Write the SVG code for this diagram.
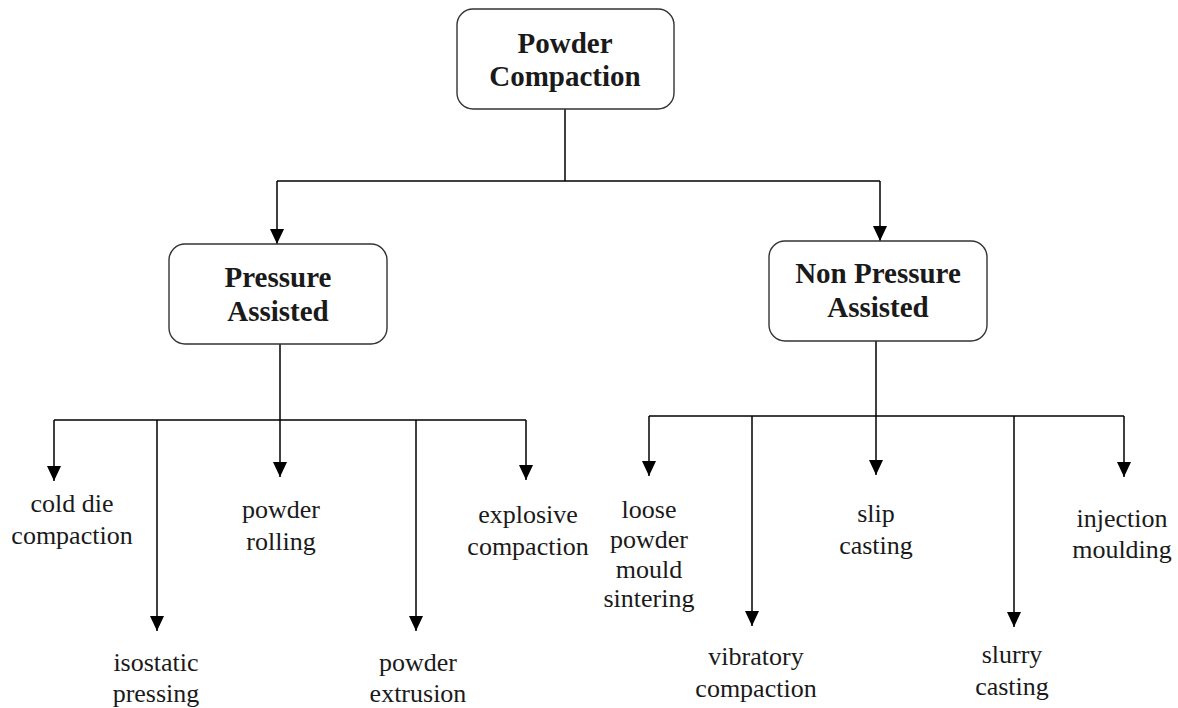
<svg xmlns="http://www.w3.org/2000/svg" width="1178" height="708" viewBox="0 0 1178 708">
<style>
.box{fill:#fff;stroke:#333;stroke-width:1.4}
.t{font-family:"Liberation Serif","Times New Roman",serif;font-size:26px;fill:#1a1a1a;text-anchor:middle}
.b{font-family:"Liberation Serif","Times New Roman",serif;font-size:29px;font-weight:bold;fill:#1a1a1a;text-anchor:middle}
.ln{fill:none;stroke:#000;stroke-width:1.5}
</style>
<defs>
<marker id="a" markerUnits="userSpaceOnUse" markerWidth="15" markerHeight="14" viewBox="0 0 15 14" refX="15" refY="7" orient="auto">
<path d="M0,0 L15,7 L0,14 Z" fill="#000"/>
</marker>
</defs>
<rect width="1178" height="708" fill="#fff"/>
<g id="connectors">
<path class="ln" d="M565,109 V181"/>
<path class="ln" d="M277,181 H880"/>
<path class="ln" d="M277,181 V244" marker-end="url(#a)"/>
<path class="ln" d="M880,181 V241" marker-end="url(#a)"/>
<path class="ln" d="M280,344 V420"/>
<path class="ln" d="M54,420 H526"/>
<path class="ln" d="M54,420 V481" marker-end="url(#a)"/>
<path class="ln" d="M157,420 V631" marker-end="url(#a)"/>
<path class="ln" d="M280,420 V477" marker-end="url(#a)"/>
<path class="ln" d="M416,420 V631" marker-end="url(#a)"/>
<path class="ln" d="M526,420 V480" marker-end="url(#a)"/>
<path class="ln" d="M876,341 V416"/>
<path class="ln" d="M649,416 H1124"/>
<path class="ln" d="M649,416 V476" marker-end="url(#a)"/>
<path class="ln" d="M752,416 V626" marker-end="url(#a)"/>
<path class="ln" d="M876,416 V475" marker-end="url(#a)"/>
<path class="ln" d="M1014,416 V627" marker-end="url(#a)"/>
<path class="ln" d="M1124,416 V477" marker-end="url(#a)"/>
</g>
<g id="powder-compaction">
<rect class="box" x="457" y="9" width="217" height="100" rx="16"/>
<text class="b" x="565" y="53">Powder</text>
<text class="b" x="565" y="86">Compaction</text>
</g>
<g id="pressure-assisted">
<rect class="box" x="169" y="244" width="218" height="100" rx="16"/>
<text class="b" x="278" y="287">Pressure</text>
<text class="b" x="278" y="321">Assisted</text>
</g>
<g id="non-pressure-assisted">
<rect class="box" x="769" y="241" width="218" height="100" rx="16"/>
<text class="b" x="878" y="283">Non Pressure</text>
<text class="b" x="878" y="317">Assisted</text>
</g>
<g id="cold-die-compaction">
<text class="t" x="72" y="512">cold die</text>
<text class="t" x="72" y="544">compaction</text>
</g>
<g id="isostatic-pressing">
<text class="t" x="156" y="671">isostatic</text>
<text class="t" x="156" y="702">pressing</text>
</g>
<g id="powder-rolling">
<text class="t" x="281" y="518">powder</text>
<text class="t" x="281" y="550">rolling</text>
</g>
<g id="powder-extrusion">
<text class="t" x="418" y="671">powder</text>
<text class="t" x="418" y="702">extrusion</text>
</g>
<g id="explosive-compaction">
<text class="t" x="528" y="523">explosive</text>
<text class="t" x="528" y="555">compaction</text>
</g>
<g id="loose-powder-mould-sintering">
<text class="t" x="649" y="518">loose</text>
<text class="t" x="649" y="548">powder</text>
<text class="t" x="649" y="578">mould</text>
<text class="t" x="649" y="607">sintering</text>
</g>
<g id="vibratory-compaction">
<text class="t" x="756" y="665">vibratory</text>
<text class="t" x="756" y="697">compaction</text>
</g>
<g id="slip-casting">
<text class="t" x="876" y="522">slip</text>
<text class="t" x="876" y="554">casting</text>
</g>
<g id="slurry-casting">
<text class="t" x="1012" y="663">slurry</text>
<text class="t" x="1012" y="695">casting</text>
</g>
<g id="injection-moulding">
<text class="t" x="1122" y="527">injection</text>
<text class="t" x="1122" y="558">moulding</text>
</g>
</svg>
